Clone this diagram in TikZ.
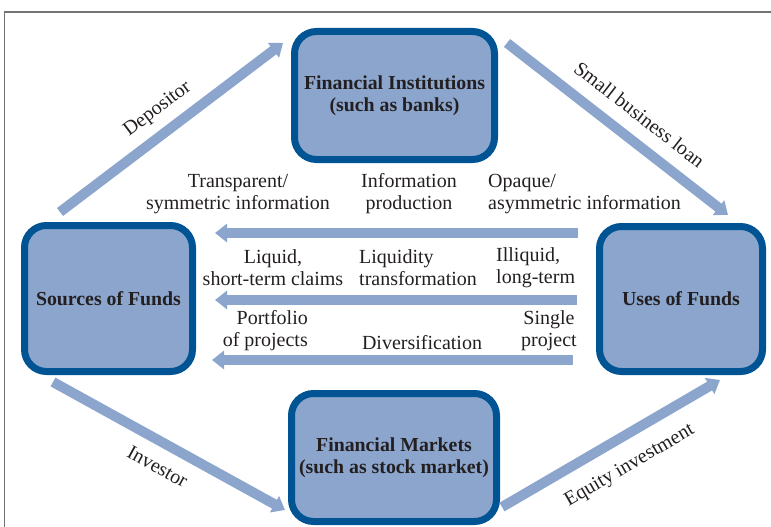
\documentclass[tikz,border=0pt]{standalone}
\usepackage{fontspec}
\setmainfont{Liberation Serif}
\usepackage{xcolor}
\usepackage{tikz}
\usetikzlibrary{positioning}
\usetikzlibrary{arrows.meta,calc}
\definecolor{boxfill}{RGB}{139,165,204}
\definecolor{boxline}{RGB}{0,84,148}
\definecolor{flowcol}{RGB}{139,165,204}
\definecolor{txtcol}{RGB}{35,31,32}
\tikzstyle{fundbox}=[rectangle,rounded corners=22pt,draw=boxline,fill=boxfill,line width=7pt,align=center,text=txtcol,inner sep=0pt,font=\fontsize{19.8}{22}\selectfont\bfseries]
\tikzstyle{flow}=[draw=flowcol,line width=10pt,-{Triangle[width=18pt,length=12pt]}]
\tikzstyle{lbl}=[text=txtcol,inner sep=0pt,font=\fontsize{20}{22}\selectfont]
\tikzset{frame/.style={draw=black!55,line width=1.2pt}}

\begin{document}
\begin{tikzpicture}[x=1pt,y=-1pt]

  \useasboundingbox (0,0) rectangle (771,527);
  \draw[frame] (4.5,527) -- (4.5,12) -- (771,12);

  % the four boxes
  \foreach \x/\y/\w/\h/\name/\label in {394.5/95.5/200/128/inst/{Financial Institutions\\(such as banks)},
       394/457.5/205/128/mkt/{Financial Markets\\(such as stock market)},
       108.5/298.5/168/146/src/{Sources of Funds},
       681/299/163/145/uses/{Uses of Funds}}
          \node[fundbox, minimum width=\w pt, minimum height=\h pt] (\name) at (\x,\y) {\label};

  % ends of the slanted arrows
  \foreach \name/\x/\y in {dep1/60/212, dep2/283/43, loan1/507/43, loan2/728/215,
       inv1/53/382, inv2/285/510, eq1/502/507, eq2/720/380}
          \coordinate (\name) at (\x,\y);

  \draw[flow] (dep1) -- node[lbl, sloped, above=9pt] {Depositor} (dep2);
  \draw[flow] (loan1) -- node[lbl, sloped, pos=0.53, above=13pt] {Small business loan} (loan2);
  \draw[flow] (inv1) -- node[lbl, sloped, below=12pt] {Investor} (inv2);
  \draw[flow] (eq1) -- node[lbl, sloped, pos=0.52, below=15pt] {Equity investment} (eq2);

  % the three transformations
  \foreach \y/\a/\b in {233/18/19, 300/19/19, 360/23/16}
     {
      \coordinate (row) at (0,\y);
      \draw[flow, shorten <=\a pt, shorten >=\b pt] (uses.west |- row) -- (src.east |- row);
     }

  \node[lbl, align=center] (transp) at (238,194) {Transparent/\\symmetric information};
  \node[lbl, align=center] (infoprod) at (409,194) {Information\\production};
  \node[lbl, align=left, anchor=west] (opaque) at (488,194) {Opaque/\\asymmetric information};

  \node[lbl, align=center] (liquid) at (273,268) {Liquid,\\short-term claims};
  \node[lbl, align=left, anchor=west] (liqtrans) at (359,268) {Liquidity\\transformation};
  \node[lbl, align=left, anchor=west] (illiquid) at (496,268) {Illiquid,\\long-term};

  \node[lbl, align=right, anchor=east] (portf) at (308,331) {Portfolio\\of projects};
  \node[lbl] (divers) at (422,343) {Diversification};
  \node[lbl, align=center] (single) at (549,331) {Single\\project};

\end{tikzpicture}
\end{document}
